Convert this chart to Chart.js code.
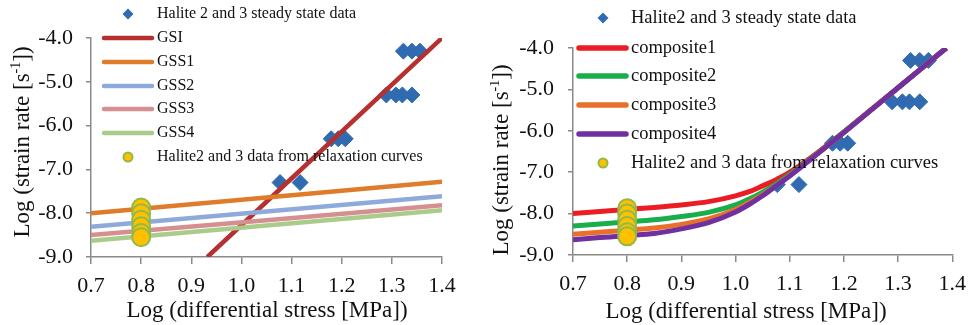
<!DOCTYPE html>
<html>
<head>
<meta charset="utf-8">
<script src="https://cdn.jsdelivr.net/npm/chart.js@4.4.1/dist/chart.umd.min.js"></script>
<style>
  html, body { margin: 0; padding: 0; background: #fff; }
  #wrap { position: relative; width: 975px; height: 325px; }
  canvas { position: absolute; top: 0; }
  #c1 { left: 0; }
  #c2 { left: 490px; }
</style>
</head>
<body>
<div id="wrap">
  <canvas id="c1" width="490" height="325"></canvas>
  <canvas id="c2" width="485" height="325"></canvas>
</div>
<script>
// steady state data (diamonds), shared by both panels
const SS_X = [1.077, 1.117, 1.179, 1.193, 1.207, 1.289, 1.308, 1.321, 1.34, 1.323, 1.34, 1.356];
const SS_Y = [-7.3, -7.3, -6.3, -6.3, -6.3, -5.3, -5.3, -5.3, -5.3, -4.3, -4.3, -4.3];

// relaxation curve data (yellow circles)
const RELAX_X = [0.8, 0.8, 0.8, 0.8, 0.8, 0.8];
const RELAX_Y = [-7.87, -8.0, -8.15, -8.3, -8.45, -8.55];

// left panel lines
const GSI_X = [0.932, 1.4];
const GSI_Y = [-9.0, -4.0];
const GSS_X = [0.7, 1.4];
const GSS1_Y = [-8.0, -7.28];
const GSS2_Y = [-8.31, -7.61];
const GSS3_Y = [-8.5, -7.82];
const GSS4_Y = [-8.63, -7.93];

// right panel composite curves
const COMP_X  = [0.7, 0.75, 0.8, 0.85, 0.9, 0.95, 1.0, 1.025, 1.05, 1.075, 1.1, 1.15, 1.2, 1.25, 1.3, 1.35, 1.389];
const COMP1_Y = [-8.0, -7.95, -7.9, -7.85, -7.79, -7.71, -7.57, -7.47, -7.33, -7.18, -7.0, -6.54, -6.03, -5.49, -4.96, -4.42, -4.0];
const COMP2_Y = [-8.3, -8.25, -8.2, -8.15, -8.07, -7.97, -7.79, -7.65, -7.48, -7.28, -7.05, -6.56, -6.03, -5.5, -4.96, -4.42, -4.0];
const COMP3_Y = [-8.5, -8.45, -8.4, -8.35, -8.26, -8.13, -7.9, -7.73, -7.54, -7.32, -7.08, -6.57, -6.04, -5.5, -4.96, -4.42, -4.0];
const COMP4_Y = [-8.63, -8.58, -8.53, -8.48, -8.37, -8.22, -7.96, -7.78, -7.57, -7.33, -7.09, -6.57, -6.04, -5.5, -4.96, -4.42, -4.0];

const FONT = 'Liberation Serif';
const BLUE = '#306bb2', GOLD = '#ffc000', OLIVE = '#8fba48', AXIS = '#8a8a8a';

const pts = (xs, ys) => xs.map((x, i) => ({ x, y: ys[i] }));

function lineSet(label, xs, ys, color, w) {
  return { label, data: pts(xs, ys), showLine: true, borderColor: color, backgroundColor: color,
    borderWidth: w, pointRadius: 0, pointHoverRadius: 0, cubicInterpolationMode: 'monotone' };
}
const diamonds = label => ({ label, data: pts(SS_X, SS_Y), pointStyle: 'rectRot', pointRadius: 8,
  backgroundColor: BLUE, borderColor: BLUE, borderWidth: 1 });
const circles = label => ({ label, data: pts(RELAX_X, RELAX_Y), pointStyle: 'circle', pointRadius: 9,
  backgroundColor: GOLD, borderColor: OLIVE, borderWidth: 2 });

function drawYTitle(ctx, x, y, size) {
  ctx.save();
  ctx.translate(x, y); ctx.rotate(-Math.PI / 2);
  const a = 'Log (strain rate [s', sup = '-1', b = '])';
  const big = size + 'px "' + FONT + '"', small = Math.round(size * 0.62) + 'px "' + FONT + '"';
  ctx.font = big; const wa = ctx.measureText(a).width, wb = ctx.measureText(b).width;
  ctx.font = small; const ws = ctx.measureText(sup).width;
  let cx = -(wa + ws + wb) / 2;
  const base = size * 0.33;
  ctx.fillStyle = '#111'; ctx.textBaseline = 'alphabetic'; ctx.textAlign = 'left';
  ctx.font = big; ctx.fillText(a, cx, base); cx += wa;
  ctx.font = small; ctx.fillText(sup, cx, base - size * 0.38); cx += ws;
  ctx.font = big; ctx.fillText(b, cx, base);
  ctx.restore();
}

function drawLegend(ctx, chart, L) {
  ctx.save();
  ctx.font = L.font + 'px "' + FONT + '"';
  ctx.textBaseline = 'middle'; ctx.textAlign = 'left';
  chart.data.datasets.forEach((ds, i) => {
    const y = L.rows[i];
    if (ds.showLine) {
      ctx.strokeStyle = ds.borderColor; ctx.lineWidth = L.lw; ctx.lineCap = 'round';
      ctx.beginPath(); ctx.moveTo(L.swatch[0], y); ctx.lineTo(L.swatch[1], y); ctx.stroke();
    } else if (ds.pointStyle === 'rectRot') {
      const r = L.mr;
      ctx.fillStyle = ds.backgroundColor;
      ctx.beginPath(); ctx.moveTo(L.marker - r, y); ctx.lineTo(L.marker, y - r);
      ctx.lineTo(L.marker + r, y); ctx.lineTo(L.marker, y + r); ctx.closePath(); ctx.fill();
    } else {
      ctx.fillStyle = ds.backgroundColor; ctx.strokeStyle = ds.borderColor; ctx.lineWidth = 2;
      ctx.beginPath(); ctx.arc(L.marker, y, L.mr - 1, 0, Math.PI * 2); ctx.fill(); ctx.stroke();
    }
    ctx.fillStyle = '#111';
    ctx.fillText(ds.label, L.text, y);
  });
  ctx.restore();
}

function makeChart(id, datasets, G) {
  const n = datasets.length;
  // later series drawn on top (lower order = drawn last)
  datasets.forEach((ds, i) => { ds.order = n - i; });
  const tickFont = { family: FONT, size: G.tickSize };
  return new Chart(document.getElementById(id), {
    type: 'scatter',
    data: { datasets },
    options: {
      responsive: false, animation: false, events: [],
      layout: { padding: { left: 0, bottom: 0, top: G.area.t, right: G.W - G.area.r } },
      plugins: { legend: { display: false }, tooltip: { enabled: false } },
      scales: {
        x: {
          type: 'linear', min: 0.7, max: 1.4,
          afterFit: s => { s.height = 325 - G.area.b; },
          ticks: { stepSize: 0.1, autoSkip: false, maxRotation: 0, padding: G.xPad, color: '#111', font: tickFont,
            callback: v => v.toFixed(1) },
          grid: { drawOnChartArea: false, drawTicks: true, tickLength: 7, color: AXIS, lineWidth: 1.5 },
          border: { display: true, color: AXIS, width: 1.5 }
        },
        y: {
          type: 'linear', min: -9, max: -4,
          afterFit: s => { s.width = G.area.l; },
          ticks: { stepSize: 1, padding: G.yPad, color: '#111', font: tickFont, callback: v => v.toFixed(1) },
          grid: { drawOnChartArea: false, drawTicks: true, tickLength: 5, color: AXIS, lineWidth: 1.5 },
          border: { display: true, color: AXIS, width: 1.5 }
        }
      }
    },
    plugins: [{
      id: 'decor',
      afterDraw(chart) {
        const ctx = chart.ctx;
        drawYTitle(ctx, G.yTitle[0], G.yTitle[1], 23);
        ctx.save();
        ctx.font = '23px "' + FONT + '"'; ctx.fillStyle = '#111';
        ctx.textAlign = 'center'; ctx.textBaseline = 'alphabetic';
        ctx.fillText('Log (differential stress [MPa])', G.xTitle[0], G.xTitle[1]);
        ctx.restore();
        drawLegend(ctx, chart, G.legend);
      }
    }]
  });
}

makeChart('c1', [
  diamonds('Halite 2 and 3 steady state data'),
  lineSet('GSI', GSI_X, GSI_Y, '#b5302e', 4.5),
  lineSet('GSS1', GSS_X, GSS1_Y, '#e07b2a', 4.5),
  lineSet('GSS2', GSS_X, GSS2_Y, '#8eaadb', 4.5),
  lineSet('GSS3', GSS_X, GSS3_Y, '#d68f90', 4.5),
  lineSet('GSS4', GSS_X, GSS4_Y, '#a9cc8a', 4.5),
  circles('Halite2 and 3 data from relaxation curves')
], {
  W: 490, area: { l: 91, r: 442, t: 38, b: 257 }, tickSize: 22, xPad: 9, yPad: 13,
  yTitle: [21, 142], xTitle: [267, 317],
  legend: { rows: [14, 38, 62, 86, 109, 133, 157], swatch: [104, 152], marker: 128, text: 157, font: 16, lw: 4.5, mr: 5.5 }
});

makeChart('c2', [
  diamonds('Halite2 and 3 steady state data'),
  lineSet('composite1', COMP_X, COMP1_Y, '#ec1c24', 5),
  lineSet('composite2', COMP_X, COMP2_Y, '#1aad4c', 5),
  lineSet('composite3', COMP_X, COMP3_Y, '#e8702a', 5),
  lineSet('composite4', COMP_X, COMP4_Y, '#7030a0', 5),
  circles('Halite2 and 3 data from relaxation curves')
], {
  W: 485, area: { l: 83, r: 468, t: 48, b: 255 }, tickSize: 22, xPad: 9, yPad: 14,
  yTitle: [10, 160], xTitle: [256, 318],
  legend: { rows: [18, 48, 76, 105, 134, 163], swatch: [89, 136], marker: 113, text: 141, font: 18.5, lw: 5.5, mr: 5.5 }
});
</script>
</body>
</html>
